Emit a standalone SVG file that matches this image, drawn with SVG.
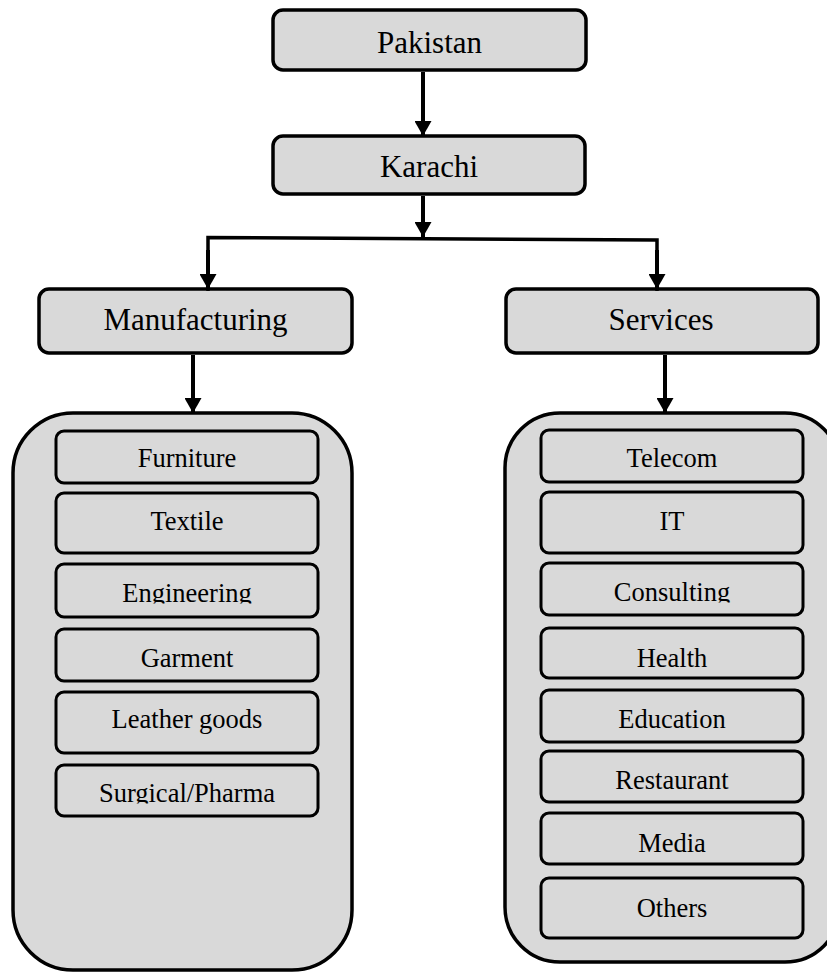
<svg xmlns="http://www.w3.org/2000/svg" width="827" height="972" viewBox="0 0 827 972">
  <style>
    .box { fill: #d9d9d9; stroke: #000; stroke-width: 3.5; }
    .panel { fill: #d9d9d9; stroke: #000; stroke-width: 3.5; }
    .item { fill: #d9d9d9; stroke: #000; stroke-width: 3; }
    .big { font-family: "Liberation Serif", "Times New Roman", serif; font-size: 31px; fill: #000; text-anchor: middle; }
    .small { font-family: "Liberation Serif", "Times New Roman", serif; font-size: 26.5px; fill: #000; text-anchor: middle; }
    .link { fill: none; stroke: #000; stroke-width: 4; }
    .bar { fill: none; stroke: #000; stroke-width: 3.5; }
  </style>
  <defs>
    <marker id="arrow" viewBox="0 0 15 17" refX="15" refY="8.5" markerWidth="15" markerHeight="17" markerUnits="userSpaceOnUse" orient="auto">
      <path d="M0,0 L15,8.5 L0,17 z" fill="#000"/>
    </marker>
    <!-- labels whose descenders are cut off by the box edge -->
    <clipPath id="clip-engineering"><rect x="56" y="564" width="262" height="39.5"/></clipPath>
    <clipPath id="clip-consulting"><rect x="541" y="563" width="262" height="39.5"/></clipPath>
    <clipPath id="clip-surgical"><rect x="56" y="765" width="262" height="38.5"/></clipPath>
  </defs>

  <!-- top level -->
  <g id="pakistan">
    <rect class="box" x="273" y="10" width="313" height="60" rx="10"/>
    <text class="big" x="429.5" y="53">Pakistan</text>
  </g>
  <g id="karachi">
    <rect class="box" x="273" y="136" width="312" height="58" rx="10"/>
    <text class="big" x="429" y="177">Karachi</text>
  </g>
  <g id="manufacturing">
    <rect class="box" x="39" y="289" width="313" height="64" rx="10"/>
    <text class="big" x="195.5" y="330">Manufacturing</text>
  </g>
  <g id="services">
    <rect class="box" x="506" y="289" width="312" height="64" rx="10"/>
    <text class="big" x="661" y="330">Services</text>
  </g>

  <!-- manufacturing sectors -->
  <g id="manufacturing-list">
    <rect class="panel" x="13" y="413" width="339" height="557" rx="60"/>
    <g id="furniture">
      <rect class="item" x="56" y="431" width="262" height="52" rx="8"/>
      <text class="small" x="187" y="467">Furniture</text>
    </g>
    <g id="textile">
      <rect class="item" x="56" y="493" width="262" height="60" rx="8"/>
      <text class="small" x="187" y="530">Textile</text>
    </g>
    <g id="engineering">
      <rect class="item" x="56" y="564" width="262" height="53" rx="8"/>
      <text class="small" x="187" y="602" clip-path="url(#clip-engineering)">Engineering</text>
    </g>
    <g id="garment">
      <rect class="item" x="56" y="629" width="262" height="52" rx="8"/>
      <text class="small" x="187" y="667">Garment</text>
    </g>
    <g id="leather-goods">
      <rect class="item" x="56" y="692" width="262" height="61" rx="8"/>
      <text class="small" x="187" y="728">Leather goods</text>
    </g>
    <g id="surgical-pharma">
      <rect class="item" x="56" y="765" width="262" height="51" rx="8"/>
      <text class="small" x="187" y="802" clip-path="url(#clip-surgical)">Surgical/Pharma</text>
    </g>
  </g>

  <!-- service sectors -->
  <g id="services-list">
    <rect class="panel" x="505" y="413" width="335" height="549" rx="55"/>
    <g id="telecom">
      <rect class="item" x="541" y="430" width="262" height="52" rx="8"/>
      <text class="small" x="672" y="467">Telecom</text>
    </g>
    <g id="it">
      <rect class="item" x="541" y="492" width="262" height="61" rx="8"/>
      <text class="small" x="672" y="530">IT</text>
    </g>
    <g id="consulting">
      <rect class="item" x="541" y="563" width="262" height="52" rx="8"/>
      <text class="small" x="672" y="601" clip-path="url(#clip-consulting)">Consulting</text>
    </g>
    <g id="health">
      <rect class="item" x="541" y="628" width="262" height="50" rx="8"/>
      <text class="small" x="672" y="667">Health</text>
    </g>
    <g id="education">
      <rect class="item" x="541" y="690" width="262" height="52" rx="8"/>
      <text class="small" x="672" y="728">Education</text>
    </g>
    <g id="restaurant">
      <rect class="item" x="541" y="751" width="262" height="51" rx="8"/>
      <text class="small" x="672" y="789">Restaurant</text>
    </g>
    <g id="media">
      <rect class="item" x="541" y="813" width="262" height="51" rx="8"/>
      <text class="small" x="672" y="852">Media</text>
    </g>
    <g id="others">
      <rect class="item" x="541" y="878" width="262" height="60" rx="8"/>
      <text class="small" x="672" y="917">Others</text>
    </g>
  </g>

  <!-- connectors -->
  <g id="connectors">
    <line class="link" x1="423" y1="72" x2="423" y2="136" marker-end="url(#arrow)"/>
    <line class="link" x1="423" y1="196" x2="423" y2="237" marker-end="url(#arrow)"/>
    <polyline class="bar" points="208,291 208,237.5 657,240 657,291"/>
    <line class="link" x1="208" y1="250" x2="208" y2="289" marker-end="url(#arrow)"/>
    <line class="link" x1="657" y1="250" x2="657" y2="289" marker-end="url(#arrow)"/>
    <line class="link" x1="193" y1="355" x2="193" y2="413" marker-end="url(#arrow)"/>
    <line class="link" x1="665" y1="355" x2="665" y2="413" marker-end="url(#arrow)"/>
  </g>
</svg>
